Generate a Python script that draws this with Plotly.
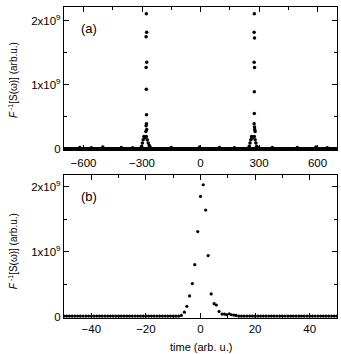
import plotly.graph_objects as go
import numpy as np

# ---------------- data (values in units of 1e9 arb.u.) ----------------
# Panel (a): long time window
a_base_t = list(np.arange(-700, 701, 4))
a_base_v = [0.0] * len(a_base_t)
a_bump_t = [-619, -560, -501, -406, -348, -150, -5, 97, 174, 368, 496, 592, 650]
a_bump_v = [0.02, 0.015, 0.025, 0.02, 0.015, 0.02, 0.025, 0.02, 0.015, 0.02, 0.02, 0.025, 0.015]
# negative-time echo
a_left_t = [-278, -276, -279, -276, -279, -278, -277, -277, -279, -276, -280,
            -302, -298, -294, -290, -286, -278, -273, -268, -263, -259]
a_left_v = [2.11, 1.82, 1.75, 1.35, 1.27, 0.93, 0.53, 0.39, 0.36, 0.30, 0.27,
            0.04, 0.09, 0.14, 0.19, 0.17, 0.19, 0.14, 0.09, 0.05, 0.03]
# positive-time echo
a_right_t = [276, 275, 277, 275, 277, 276, 276, 275, 277, 278, 280,
             250, 254, 258, 262, 266, 276, 280, 284, 288, 292]
a_right_v = [2.11, 1.82, 1.73, 1.35, 1.27, 0.89, 0.55, 0.39, 0.34, 0.30, 0.27,
             0.04, 0.09, 0.14, 0.19, 0.17, 0.19, 0.14, 0.09, 0.04, 0.02]

# Panel (b): zoom on central peak
b_base_t = list(range(-50, -7)) + list(range(14, 51))
b_base_v = [0.01] * len(b_base_t)
b_peak_t = [-7, -5.9, -5, -4, -3, -2.1, -1, 0, 1, 1.9, 2.8, 3.9, 5, 5.8, 6.8, 7.9,
            8.8, 9.6, 10.5, 11.3, 12.2, 13]
b_peak_v = [0.02, 0.07, 0.16, 0.32, 0.51, 0.80, 1.31, 1.85, 2.03, 1.64, 0.94, 0.35,
            0.20, 0.18, 0.08, 0.04, 0.04, 0.03, 0.045, 0.03, 0.025, 0.02]

a_xticks = [-600, -300, 0, 300, 600]
b_xticks = [-40, -20, 0, 20, 40]
y_ticks = [0, 1, 2]
y_ticktext = ["0", "1x10<sup>9</sup>", "2x10<sup>9</sup>"]

FONT = "Arial, Liberation Sans, sans-serif"
mk = dict(color="black", size=3.5, symbol="circle")

fig = go.Figure()
for t, v in [(a_base_t, a_base_v), (a_bump_t, a_bump_v), (a_left_t, a_left_v), (a_right_t, a_right_v)]:
    fig.add_trace(go.Scatter(x=t, y=v, mode="markers", marker=mk, xaxis="x", yaxis="y",
                             showlegend=False, hoverinfo="skip"))
for t, v in [(b_base_t, b_base_v), (b_peak_t, b_peak_v)]:
    fig.add_trace(go.Scatter(x=t, y=v, mode="markers", marker=dict(mk, size=3.2), xaxis="x2", yaxis="y2",
                             showlegend=False, hoverinfo="skip"))

axis_common = dict(showline=True, linecolor="black", linewidth=1.2, mirror="allticks",
                   ticks="inside", ticklen=5, tickwidth=1, tickcolor="black",
                   showgrid=False, zeroline=False,
                   tickfont=dict(family=FONT, size=11.5, color="black"))

fig.update_layout(
    width=341, height=354,
    margin=dict(l=64, r=4, t=7, b=36),
    paper_bgcolor="white", plot_bgcolor="white",
    xaxis=dict(axis_common, domain=[0, 1], anchor="y", range=[-700, 700],
               tickvals=a_xticks, ticklabelstandoff=2,
               minor=dict(ticks="inside", ticklen=3, tickcolor="black", dtick=150, tick0=0, showgrid=False)),
    yaxis=dict(axis_common, domain=[0.5402, 1], anchor="x", range=[-0.02, 2.214],
               tickvals=y_ticks, ticktext=y_ticktext,
               minor=dict(ticks="inside", ticklen=3, tickcolor="black", dtick=0.5, tick0=0, showgrid=False)),
    xaxis2=dict(axis_common, domain=[0, 1], anchor="y2", range=[-50, 50],
                tickvals=b_xticks,
                minor=dict(ticks="inside", ticklen=3, tickcolor="black", dtick=10, tick0=0, showgrid=False)),
    yaxis2=dict(axis_common, domain=[0, 0.4598], anchor="x2", range=[-0.02, 2.18],
                tickvals=y_ticks, ticktext=y_ticktext,
                minor=dict(ticks="inside", ticklen=3, tickcolor="black", dtick=0.5, tick0=0, showgrid=False)),
)

ytitle = "<i>F</i><sup> -1</sup>[S(\u03c9)] (arb.u.)"
ann = [
    dict(text=ytitle, xref="paper", yref="paper", x=0, y=0.765, xshift=-51, textangle=-90,
         showarrow=False, font=dict(family=FONT, size=10, color="black"), xanchor="center", yanchor="middle"),
    dict(text=ytitle, xref="paper", yref="paper", x=0, y=0.215, xshift=-51, textangle=-90,
         showarrow=False, font=dict(family=FONT, size=10, color="black"), xanchor="center", yanchor="middle"),
    dict(text="(a)", xref="paper", yref="paper", x=0.09, y=0.93, showarrow=False,
         font=dict(family=FONT, size=13, color="black"), xanchor="center", yanchor="middle"),
    dict(text="(b)", xref="paper", yref="paper", x=0.09, y=0.392, showarrow=False,
         font=dict(family=FONT, size=13, color="black"), xanchor="center", yanchor="middle"),
    dict(text="time (arb. u.)", xref="paper", yref="paper", x=0.5, y=0, yshift=-29, showarrow=False,
         font=dict(family=FONT, size=11, color="black"), xanchor="center", yanchor="middle"),
]
fig.update_layout(annotations=ann)

fig.write_html("out.html")
